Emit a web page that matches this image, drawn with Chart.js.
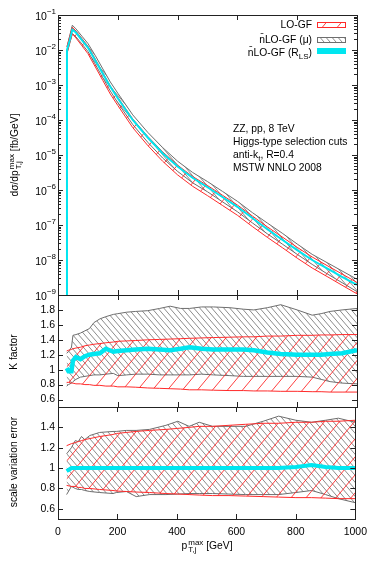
<!DOCTYPE html>
<html>
<head>
<meta charset="utf-8">
<script src="https://cdn.jsdelivr.net/npm/chart.js@4.4.1/dist/chart.umd.min.js"></script>
<style>
body{margin:0;background:#fff}
#lienzo{position:relative;width:374px;height:561px;overflow:hidden;background:#fff;font-family:"Liberation Sans",Arial,sans-serif;font-size:10.3px;color:#000}
canvas{position:absolute;left:0}
.txt{position:absolute;white-space:nowrap;line-height:13px}
.rot{transform:translate(-50%,-50%) rotate(-90deg)}
.ss{display:inline-block;vertical-align:middle;font-size:8px;line-height:7px;margin-left:1px}
.ss span{display:block}
sub{font-size:8px;vertical-align:-3px;line-height:0}
</style>
</head>
<body>
<div id="lienzo">
<canvas id="g_sup" width="374" height="300" style="top:0"></canvas>
<canvas id="g_k" width="374" height="132" style="top:285px"></canvas>
<canvas id="g_esc" width="374" height="164" style="top:397px"></canvas>
<div class="txt" style="right:62px;top:18px">LO-GF</div>
<div class="txt" style="right:62px;top:33px">n&#x304;LO-GF (μ)</div>
<div class="txt" style="right:62px;top:46px">n&#x304;LO-GF (R<sub>LS</sub>)</div>
<div class="txt" style="left:233px;top:122px">ZZ, pp, 8 TeV</div>
<div class="txt" style="left:233px;top:135px">Higgs-type selection cuts</div>
<div class="txt" style="left:233px;top:148px">anti-k<sub>t</sub>, R=0.4</div>
<div class="txt" style="left:233px;top:161px">MSTW NNLO 2008</div>
<div class="txt rot" style="left:15px;top:155px">dσ/dp<span class="ss"><span>max</span><span>T,j</span></span> [fb/GeV]</div>
<div class="txt rot" style="left:13px;top:352px">K factor</div>
<div class="txt rot" style="left:13px;top:462px">scale variation error</div>
<div class="txt" style="left:207px;top:546px;transform:translate(-50%,-50%)">p<span class="ss"><span>max</span><span>T,j</span></span> [GeV]</div>
</div>
<script>
// panel superior: dσ/dpT [fb/GeV]
var pt_sup = [29, 30, 40, 48, 60, 80, 100, 125, 150, 175, 200, 250, 300, 350, 400, 450, 500, 550, 600, 650, 700, 750, 800, 850, 900, 950, 1000]
var rls_sup = [1e-10, 1.00e-2, 2.00e-2, 3.80e-2, 3.16e-2, 1.91e-2, 1.17e-2, 5.01e-3, 2.09e-3, 8.91e-4, 4.17e-4, 1.00e-4, 3.16e-5, 1.12e-5, 4.68e-6, 2.24e-6, 1.20e-6, 6.31e-7, 3.31e-7, 1.58e-7, 7.59e-8, 3.80e-8, 1.91e-8, 1.00e-8, 5.75e-9, 3.31e-9, 1.95e-9]
var lo_alto_sup = [null, 1.25e-2, 2.56e-2, 4.47e-2, 3.49e-2, 2.14e-2, 1.28e-2, 5.47e-3, 2.24e-3, 9.42e-4, 4.47e-4, 1.07e-4, 3.41e-5, 1.23e-5, 5.12e-6, 2.44e-6, 1.34e-6, 7.10e-7, 3.72e-7, 1.81e-7, 8.87e-8, 4.55e-8, 2.30e-8, 1.22e-8, 6.93e-9, 3.99e-9, 2.28e-9]
var lo_bajo_sup = [null, 8.20e-3, 1.67e-2, 2.89e-2, 2.21e-2, 1.32e-2, 7.89e-3, 3.27e-3, 1.34e-3, 5.52e-4, 2.60e-4, 6.05e-5, 1.88e-5, 6.62e-6, 2.70e-6, 1.28e-6, 6.90e-7, 3.62e-7, 1.90e-7, 9.06e-8, 4.44e-8, 2.26e-8, 1.13e-8, 5.92e-9, 3.37e-9, 1.90e-9, 1.08e-9]
var nlo_alto_sup = [null, 1.22e-2, 2.75e-2, 5.11e-2, 4.01e-2, 2.48e-2, 1.54e-2, 6.87e-3, 2.88e-3, 1.22e-3, 5.83e-4, 1.40e-4, 4.45e-5, 1.63e-5, 6.65e-6, 3.18e-6, 1.74e-6, 9.14e-7, 4.76e-7, 2.26e-7, 1.14e-7, 5.83e-8, 2.86e-8, 1.45e-8, 8.41e-9, 4.86e-9, 2.82e-9]
var nlo_bajo_sup = [null, 7.80e-3, 1.67e-2, 2.96e-2, 2.37e-2, 1.49e-2, 9.08e-3, 3.85e-3, 1.60e-3, 6.73e-4, 3.10e-4, 7.40e-5, 2.32e-5, 8.20e-6, 3.40e-6, 1.61e-6, 8.89e-7, 4.61e-7, 2.40e-7, 1.15e-7, 5.61e-8, 2.86e-8, 1.45e-8, 7.50e-9, 4.04e-9, 2.25e-9, 1.25e-9]

// panel K factor
var pt_k = [29, 35, 45, 50, 60, 75, 90, 105, 120, 140, 160, 185, 200, 230, 260, 300, 340, 375, 410, 440, 480, 520, 575, 620, 655, 700, 745, 800, 850, 880, 910, 950, 1000]
var rls_k = [1.02, 0.98, 0.98, 1.12, 1.17, 1.14, 1.18, 1.20, 1.21, 1.22, 1.28, 1.24, 1.25, 1.26, 1.27, 1.28, 1.27, 1.26, 1.28, 1.30, 1.28, 1.27, 1.27, 1.27, 1.26, 1.23, 1.21, 1.20, 1.20, 1.20, 1.21, 1.22, 1.26]
var lo_alto_k = [1.25, 1.26, 1.27, 1.28, 1.29, 1.30, 1.32, 1.33, 1.34, 1.35, 1.36, 1.37, 1.38, 1.385, 1.39, 1.40, 1.405, 1.41, 1.415, 1.42, 1.425, 1.43, 1.435, 1.44, 1.44, 1.45, 1.45, 1.46, 1.46, 1.465, 1.465, 1.47, 1.47]
var lo_bajo_k = [0.83, 0.83, 0.82, 0.82, 0.81, 0.81, 0.80, 0.80, 0.79, 0.79, 0.78, 0.78, 0.77, 0.77, 0.765, 0.755, 0.75, 0.745, 0.74, 0.73, 0.73, 0.725, 0.72, 0.72, 0.715, 0.715, 0.71, 0.71, 0.705, 0.705, 0.70, 0.70, 0.70]
var nlo_alto_k = [1.22, 1.24, 1.30, 1.46, 1.47, 1.49, 1.52, 1.55, 1.63, 1.68, 1.71, 1.74, 1.75, 1.77, 1.78, 1.79, 1.82, 1.85, 1.82, 1.82, 1.84, 1.84, 1.83, 1.81, 1.80, 1.83, 1.87, 1.80, 1.73, 1.75, 1.78, 1.80, 1.82]
var nlo_bajo_k = [0.78, 0.80, 0.82, 0.84, 0.87, 0.90, 0.91, 0.92, 0.93, 0.93, 0.94, 0.95, 0.92, 0.93, 0.94, 0.94, 0.93, 0.93, 0.93, 0.93, 0.94, 0.93, 0.92, 0.91, 0.91, 0.91, 0.91, 0.91, 0.90, 0.87, 0.84, 0.82, 0.81]

// panel scale variation error
var pt_esc = [29, 45, 58, 68, 79, 90, 107, 140, 185, 196, 230, 263, 308, 363, 403, 441, 475, 520, 575, 631, 690, 742, 800, 853, 900, 943, 1000]
var rls_esc = [0.97, 1.00, 1.00, 1.00, 1.00, 1.00, 1.00, 1.00, 1.00, 1.00, 1.00, 1.00, 1.00, 1.00, 1.00, 1.00, 1.00, 1.00, 1.00, 1.00, 1.00, 1.00, 1.01, 1.03, 1.01, 1.00, 1.00]
var lo_alto_esc = [1.22, 1.24, 1.25, 1.26, 1.27, 1.28, 1.29, 1.31, 1.33, 1.34, 1.35, 1.36, 1.37, 1.38, 1.39, 1.40, 1.41, 1.41, 1.42, 1.43, 1.44, 1.44, 1.45, 1.45, 1.46, 1.46, 1.47]
var lo_bajo_esc = [0.83, 0.82, 0.82, 0.81, 0.81, 0.80, 0.80, 0.79, 0.78, 0.775, 0.77, 0.765, 0.76, 0.75, 0.745, 0.74, 0.735, 0.73, 0.73, 0.725, 0.72, 0.715, 0.71, 0.71, 0.705, 0.70, 0.70]
var nlo_alto_esc = [1.14, 1.20, 1.27, 1.26, 1.31, 1.28, 1.32, 1.35, 1.36, 1.36, 1.37, 1.37, 1.38, 1.42, 1.46, 1.41, 1.45, 1.41, 1.41, 1.41, 1.46, 1.51, 1.47, 1.45, 1.47, 1.49, 1.45]
var nlo_bajo_esc = [0.74, 0.82, 0.80, 0.79, 0.79, 0.78, 0.77, 0.76, 0.75, 0.76, 0.77, 0.72, 0.74, 0.74, 0.745, 0.75, 0.75, 0.75, 0.745, 0.74, 0.74, 0.74, 0.76, 0.78, 0.74, 0.70, 0.66]

// marcas de los ejes
var marcas_x = [0, 200, 400, 600, 800, 1000]
var exponentes_sup = [-9, -8, -7, -6, -5, -4, -3, -2, -1]
var marcas_k = [0.6, 0.8, 1, 1.2, 1.4, 1.6, 1.8]
var marcas_esc = [0.6, 0.8, 1, 1.2, 1.4]

var color_cyan = '#00e6f0'
var color_rojo = '#ff2a2a'
var color_gris = '#6e6e6e'
var fuente = '"Liberation Sans", Arial, sans-serif'

Chart.defaults.font.family = fuente
Chart.defaults.font.size = 10.5
Chart.defaults.color = '#000'

function crear_patron(color, ancho, alto, sentido) {
    var tile = document.createElement('canvas')
    tile.width = ancho; tile.height = alto
    var g = tile.getContext('2d')
    g.strokeStyle = color
    g.lineWidth = 1
    g.beginPath()
    for (var k = -1; k <= 1; k++) {
        if (sentido > 0) { g.moveTo(k * ancho, alto); g.lineTo(k * ancho + ancho, 0) }
        else { g.moveTo(k * ancho, 0); g.lineTo(k * ancho + ancho, alto) }
    }
    g.stroke()
    return document.createElement('canvas').getContext('2d').createPattern(tile, 'repeat')
}
var patron_rojo = crear_patron('rgba(255,30,30,0.85)', 15, 18, 1)
var patron_gris = crear_patron('rgba(100,100,100,0.75)', 6, 7, -1)

function puntos(xs, ys) {
    return xs.map(function (x, i) { return { x: x, y: ys[i] } }).filter(function (p) { return p.y !== null })
}

function conjuntos(xs, rls, lo_alto, lo_bajo, nlo_alto, nlo_bajo, ancho_cyan) {
    var comun = { pointRadius: 0, tension: 0 }
    return [
        Object.assign({ data: puntos(xs, rls), borderColor: color_cyan, borderWidth: ancho_cyan, fill: false }, comun),
        Object.assign({ data: puntos(xs, lo_alto), borderColor: color_rojo, borderWidth: 1, fill: '+1', backgroundColor: patron_rojo }, comun),
        Object.assign({ data: puntos(xs, lo_bajo), borderColor: color_rojo, borderWidth: 1, fill: false }, comun),
        Object.assign({ data: puntos(xs, nlo_alto), borderColor: color_gris, borderWidth: 1, fill: '+1', backgroundColor: patron_gris }, comun),
        Object.assign({ data: puntos(xs, nlo_bajo), borderColor: color_gris, borderWidth: 1, fill: false }, comun)
    ]
}

// marco y marcas hacia adentro, estilo gnuplot
var marco = {
    id: 'marco',
    afterDatasetsDraw: function (chart, args, op) {
        var ctx = chart.ctx, a = chart.chartArea, x = chart.scales.x, y = chart.scales.y
        ctx.save()
        ctx.strokeStyle = '#222'
        ctx.lineWidth = 1
        ctx.beginPath()
        marcas_x.forEach(function (v) {
            var px = Math.round(x.getPixelForValue(v)) + 0.5
            ctx.moveTo(px, a.bottom); ctx.lineTo(px, a.bottom - 5)
            ctx.moveTo(px, a.top); ctx.lineTo(px, a.top + 5)
        })
        op.marcas_y.forEach(function (v) {
            var py = Math.round(y.getPixelForValue(v)) + 0.5
            ctx.moveTo(a.left, py); ctx.lineTo(a.left + 5, py)
            ctx.moveTo(a.right, py); ctx.lineTo(a.right - 5, py)
        })
        ;(op.menores || []).forEach(function (v) {
            var py = Math.round(y.getPixelForValue(v)) + 0.5
            ctx.moveTo(a.left, py); ctx.lineTo(a.left + 3, py)
            ctx.moveTo(a.right, py); ctx.lineTo(a.right - 3, py)
        })
        ctx.stroke()
        ctx.strokeRect(Math.round(a.left) + 0.5, Math.round(a.top) + 0.5, Math.round(a.right - a.left), Math.round(a.bottom - a.top))
        ctx.restore()
    }
}

// etiquetas 10^n y leyenda del panel superior
var extras_sup = {
    id: 'extras_sup',
    afterDraw: function (chart) {
        var ctx = chart.ctx, y = chart.scales.y
        ctx.save()
        ctx.fillStyle = '#000'
        ctx.textBaseline = 'middle'
        exponentes_sup.forEach(function (e) {
            var py = y.getPixelForValue(Math.pow(10, e))
            var txt = String(e).replace('-', '\u2212')
            ctx.font = '8px ' + fuente
            var w = ctx.measureText(txt).width
            ctx.textAlign = 'left'
            ctx.fillText(txt, 56 - w, py - 3)
            ctx.font = '10.5px ' + fuente
            ctx.textAlign = 'right'
            ctx.fillText('10', 56 - w, py + 2)
        })
        ctx.fillStyle = patron_rojo
        ctx.fillRect(317, 23, 29, 5)
        ctx.strokeStyle = color_rojo
        ctx.strokeRect(317.5, 22.5, 28, 5)
        ctx.fillStyle = patron_gris
        ctx.fillRect(317, 38, 29, 5)
        ctx.strokeStyle = color_gris
        ctx.strokeRect(317.5, 37.5, 28, 5)
        ctx.fillStyle = color_cyan
        ctx.fillRect(317, 48, 29, 6)
        ctx.restore()
    }
}

var menores_log = []
exponentes_sup.slice(0, -1).forEach(function (e) {
    for (var m = 2; m <= 9; m++) menores_log.push(m * Math.pow(10, e))
})

function eje_x(visible) {
    var eje = {
        type: 'linear', min: 0, max: 1000, display: visible,
        afterBuildTicks: function (s) { s.ticks = marcas_x.map(function (v) { return { value: v } }) },
        grid: { display: false, drawTicks: false }, border: { display: false },
        ticks: { padding: 7, maxRotation: 0, autoSkip: false, callback: function (v) { return String(v) } }
    }
    if (visible) eje.afterFit = function (s) { s.height = 30 }
    return eje
}

function eje_y_lineal(min, max, marcas) {
    return {
        type: 'linear', min: min, max: max,
        afterBuildTicks: function (s) { s.ticks = marcas.map(function (v) { return { value: v } }) },
        afterFit: function (s) { s.width = 58 },
        grid: { display: false, drawTicks: false }, border: { display: false },
        ticks: { padding: 3, autoSkip: false, callback: function (v) { return String(v) } }
    }
}

var base = {
    responsive: false, animation: false,
    plugins: { legend: { display: false }, tooltip: { enabled: false } }
}

var grafica_sup = new Chart(document.getElementById('g_sup'), {
    type: 'line',
    data: { datasets: conjuntos(pt_sup, rls_sup, lo_alto_sup, lo_bajo_sup, nlo_alto_sup, nlo_bajo_sup, 2) },
    options: Object.assign({}, base, {
        layout: { padding: { left: 0, right: 17, top: 15, bottom: 5 } },
        scales: {
            x: eje_x(false),
            y: {
                type: 'logarithmic', min: 1e-9, max: 1e-1,
                afterFit: function (s) { s.width = 58 },
                grid: { display: false, drawTicks: false }, border: { display: false },
                ticks: { display: false }
            }
        },
        plugins: Object.assign({}, base.plugins, { marco: { marcas_y: exponentes_sup.map(function (e) { return Math.pow(10, e) }), menores: menores_log } })
    }),
    plugins: [marco, extras_sup]
})

var grafica_k = new Chart(document.getElementById('g_k'), {
    type: 'line',
    data: { datasets: conjuntos(pt_k, rls_k, lo_alto_k, lo_bajo_k, nlo_alto_k, nlo_bajo_k, 4.5) },
    options: Object.assign({}, base, {
        layout: { padding: { left: 0, right: 17, top: 10, bottom: 10 } },
        scales: { x: eje_x(false), y: eje_y_lineal(0.5, 2.0, marcas_k) },
        plugins: Object.assign({}, base.plugins, { marco: { marcas_y: marcas_k } })
    }),
    plugins: [marco]
})

var grafica_esc = new Chart(document.getElementById('g_esc'), {
    type: 'line',
    data: { datasets: conjuntos(pt_esc, rls_esc, lo_alto_esc, lo_bajo_esc, nlo_alto_esc, nlo_bajo_esc, 4) },
    options: Object.assign({}, base, {
        layout: { padding: { left: 0, right: 17, top: 10, bottom: 12 } },
        scales: { x: eje_x(true), y: eje_y_lineal(0.5, 1.6, marcas_esc) },
        plugins: Object.assign({}, base.plugins, { marco: { marcas_y: marcas_esc } })
    }),
    plugins: [marco]
})
</script>
</body>
</html>
